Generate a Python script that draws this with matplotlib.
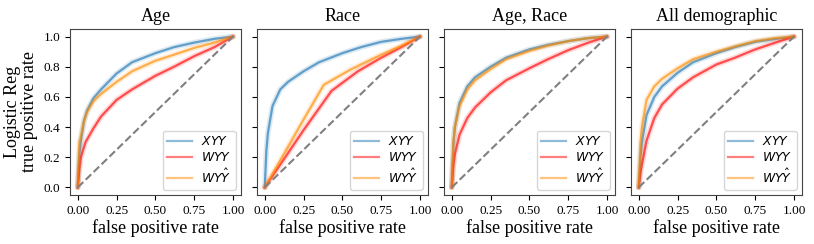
import matplotlib
matplotlib.use("Agg")
import matplotlib.pyplot as plt
import numpy as np

plt.rcParams['font.family'] = ['Liberation Serif', 'DejaVu Serif']
plt.rcParams['mathtext.fontset'] = 'dejavusans'

titles = ["Age", "Race", "Age, Race", "All demographic"]
series_labels = [r"$XYY$", r"$WYY$", r"$WY\hat{Y}$"]
series_colors = ["#1f77b4", "#ff0000", "#ff8c00"]

# Age
age_xyy_fpr = [0, 0.01, 0.02, 0.04, 0.06, 0.10, 0.15, 0.25, 0.35, 0.5, 0.62, 0.75, 0.88, 1.0]
age_xyy_tpr = [0, 0.22, 0.31, 0.44, 0.51, 0.59, 0.65, 0.755, 0.83, 0.89, 0.93, 0.96, 0.985, 1.0]
age_wyy_fpr = [0, 0.01, 0.02, 0.05, 0.10, 0.15, 0.25, 0.35, 0.5, 0.62, 0.75, 0.88, 1.0]
age_wyy_tpr = [0, 0.12, 0.20, 0.30, 0.39, 0.47, 0.58, 0.65, 0.74, 0.80, 0.87, 0.93, 1.0]
age_wyyh_fpr = [0, 0.01, 0.02, 0.04, 0.06, 0.10, 0.15, 0.25, 0.35, 0.5, 0.62, 0.75, 0.88, 1.0]
age_wyyh_tpr = [0, 0.30, 0.34, 0.44, 0.50, 0.57, 0.62, 0.70, 0.77, 0.84, 0.88, 0.925, 0.96, 1.0]

# Race
race_xyy_fpr = [0, 0.01, 0.02, 0.05, 0.10, 0.15, 0.25, 0.35, 0.5, 0.62, 0.75, 0.88, 1.0]
race_xyy_tpr = [0, 0.24, 0.36, 0.54, 0.65, 0.70, 0.77, 0.83, 0.89, 0.93, 0.965, 0.985, 1.0]
race_wyy_fpr = [0, 0.25, 0.43, 0.60, 0.75, 0.88, 1.0]
race_wyy_tpr = [0, 0.38, 0.64, 0.77, 0.86, 0.93, 1.0]
race_wyyh_fpr = [0, 0.25, 0.38, 0.55, 0.75, 0.88, 1.0]
race_wyyh_tpr = [0, 0.45, 0.68, 0.78, 0.88, 0.94, 1.0]

# Age, Race
ar_xyy_fpr = [0, 0.01, 0.02, 0.05, 0.10, 0.15, 0.25, 0.35, 0.5, 0.62, 0.75, 0.88, 1.0]
ar_xyy_tpr = [0, 0.28, 0.40, 0.56, 0.67, 0.73, 0.80, 0.86, 0.915, 0.945, 0.97, 0.99, 1.0]
ar_wyy_fpr = [0, 0.01, 0.02, 0.05, 0.10, 0.15, 0.25, 0.35, 0.5, 0.62, 0.75, 0.88, 1.0]
ar_wyy_tpr = [0, 0.14, 0.22, 0.35, 0.46, 0.53, 0.63, 0.71, 0.79, 0.85, 0.91, 0.96, 1.0]
ar_wyyh_fpr = [0, 0.01, 0.02, 0.05, 0.10, 0.15, 0.25, 0.35, 0.5, 0.62, 0.75, 0.88, 1.0]
ar_wyyh_tpr = [0, 0.30, 0.40, 0.54, 0.65, 0.71, 0.785, 0.85, 0.905, 0.94, 0.97, 0.99, 1.0]

# All demographic
all_xyy_fpr = [0, 0.01, 0.02, 0.05, 0.10, 0.15, 0.25, 0.35, 0.5, 0.62, 0.75, 0.88, 1.0]
all_xyy_tpr = [0, 0.20, 0.30, 0.48, 0.60, 0.67, 0.76, 0.83, 0.89, 0.93, 0.965, 0.985, 1.0]
all_wyy_fpr = [0, 0.01, 0.02, 0.05, 0.10, 0.15, 0.25, 0.35, 0.5, 0.62, 0.75, 0.88, 1.0]
all_wyy_tpr = [0, 0.09, 0.15, 0.31, 0.46, 0.55, 0.655, 0.73, 0.815, 0.86, 0.915, 0.96, 1.0]
all_wyyh_fpr = [0, 0.01, 0.02, 0.05, 0.10, 0.15, 0.25, 0.35, 0.5, 0.62, 0.75, 0.88, 1.0]
all_wyyh_tpr = [0, 0.28, 0.40, 0.58, 0.67, 0.72, 0.79, 0.85, 0.90, 0.935, 0.97, 0.99, 1.0]

panels = [
    [(age_xyy_fpr, age_xyy_tpr), (age_wyy_fpr, age_wyy_tpr), (age_wyyh_fpr, age_wyyh_tpr)],
    [(race_xyy_fpr, race_xyy_tpr), (race_wyy_fpr, race_wyy_tpr), (race_wyyh_fpr, race_wyyh_tpr)],
    [(ar_xyy_fpr, ar_xyy_tpr), (ar_wyy_fpr, ar_wyy_tpr), (ar_wyyh_fpr, ar_wyyh_tpr)],
    [(all_xyy_fpr, all_xyy_tpr), (all_wyy_fpr, all_wyy_tpr), (all_wyyh_fpr, all_wyyh_tpr)],
]

fig, axes = plt.subplots(1, 4, figsize=(8.14, 2.44), dpi=100, sharey=True)
fig.subplots_adjust(left=0.086, right=0.985, bottom=0.201, top=0.881, wspace=0.095)

xticks = [0, 0.25, 0.5, 0.75, 1.0]
yticks = [0, 0.2, 0.4, 0.6, 0.8, 1.0]

for i, ax in enumerate(axes):
    for (fpr, tpr), lab, col in zip(panels[i], series_labels, series_colors):
        ax.plot(fpr, tpr, color=col, lw=4.0, alpha=0.15, solid_capstyle='round')
        ax.plot(fpr, tpr, color=col, lw=1.6, alpha=0.65, label=lab)
    ax.plot([0, 1], [0, 1], ls='--', color='gray', lw=1.5)
    ax.set_title(titles[i], fontsize=13)
    ax.set_xlabel("false positive rate", fontsize=13, labelpad=2)
    ax.set_xticks(xticks)
    ax.set_xticklabels(["0.00", "0.25", "0.50", "0.75", "1.00"])
    ax.set_yticks(yticks)
    ax.tick_params(labelsize=9.5, length=3.5)
    for s in ax.spines.values():
        s.set_color('#444444')
    leg = ax.legend(loc='lower right', fontsize=9, handlelength=2.0,
                    labelspacing=0.25, borderpad=0.35, handletextpad=0.7,
                    borderaxespad=0.4)
    for h in leg.get_lines():
        h.set_alpha(0.5)
        h.set_linewidth(1.6)
axes[0].set_ylabel("Logistic Reg\ntrue positive rate", fontsize=13, linespacing=1.0)

fig.savefig("out.png", dpi=100)
